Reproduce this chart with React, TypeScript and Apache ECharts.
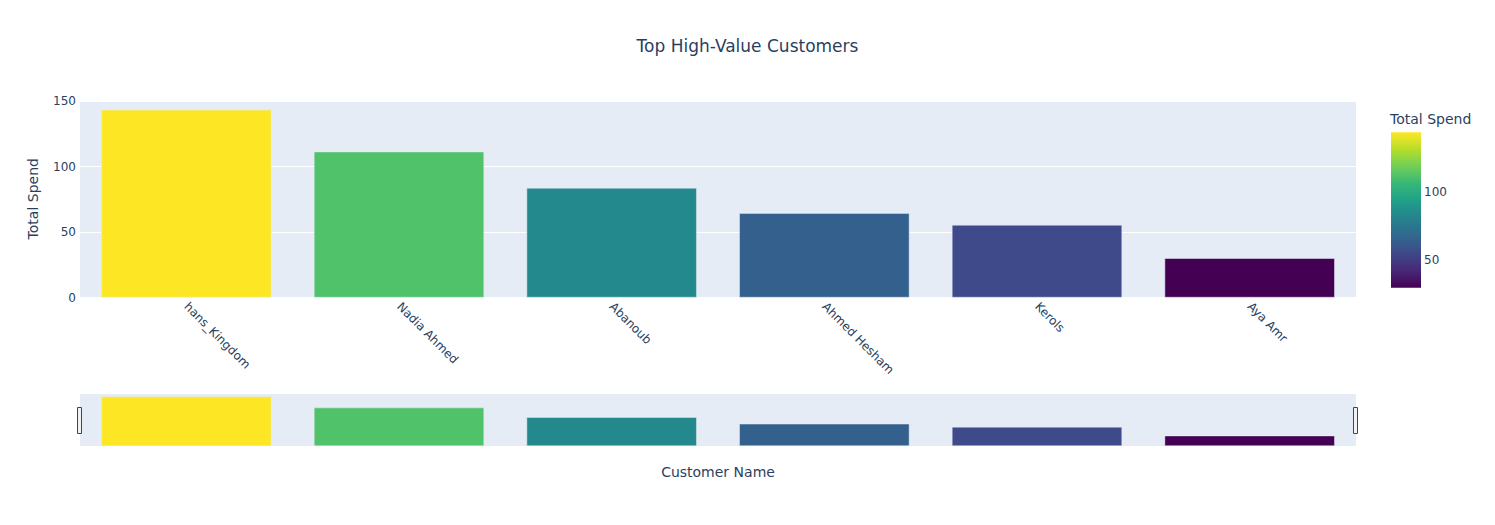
import React, { useEffect, useRef } from "react";
import * as echarts from "echarts";

const customers = ["hans_Kingdom", "Nadia Ahmed", "Abanoub", "Ahmed Hesham", "Kerols", "Aya Amr"];
const totalSpend = [143.5, 111.5, 83.8, 64.5, 55.5, 30];
const yTicks = [0, 50, 100, 150];
const colorbarTicks = [50, 100];
const viridis = ["#440154", "#482878", "#3e4989", "#31688e", "#26828e", "#1f9e89", "#35b779", "#6ece58", "#b5de2b", "#fde725"];

const FONT = 'Verdana, "DejaVu Sans", sans-serif';
const TXT = "#2a3f5f";
const BG = "#E5ECF6";

export default function App() {
  const ref = useRef<HTMLDivElement>(null);
  useEffect(() => {
    if (!ref.current) return;
    const chart = echarts.init(ref.current, null, { renderer: "svg" });
    const vMin = Math.min(...totalSpend);
    const vMax = Math.max(...totalSpend);
    const cbTop = 132.3;
    const cbBottom = 287.7;
    const cbX = 1391;
    const cbW = 30;
    const cbY = (v: number) => cbBottom - ((v - vMin) / (vMax - vMin)) * (cbBottom - cbTop);
    const yMax = 151;

    const graphics: any[] = [
      {
        type: "rect",
        shape: { x: cbX, y: cbTop, width: cbW, height: cbBottom - cbTop },
        style: {
          fill: new echarts.graphic.LinearGradient(
            0, 1, 0, 0,
            viridis.map((c, i) => ({ offset: i / (viridis.length - 1), color: c }))
          ),
        },
      },
      {
        type: "text",
        x: 1390,
        y: 119,
        style: { text: "Total Spend", fill: TXT, font: `14px ${FONT}`, textAlign: "left", textVerticalAlign: "middle" },
      },
      ...colorbarTicks.map((t) => ({
        type: "text",
        x: cbX + cbW + 3,
        y: cbY(t),
        style: { text: String(t), fill: TXT, font: `12px ${FONT}`, textAlign: "left", textVerticalAlign: "middle" },
      })),
      {
        type: "rect",
        shape: { x: 77.5, y: 407.5, width: 4, height: 26 },
        style: { fill: "#f2f2f2", stroke: "#444", lineWidth: 1 },
      },
      {
        type: "rect",
        shape: { x: 1353.5, y: 407.5, width: 4, height: 26 },
        style: { fill: "#f2f2f2", stroke: "#444", lineWidth: 1 },
      },
    ];

    chart.setOption({
      animation: false,
      backgroundColor: "#fff",
      title: {
        text: "Top High-Value Customers",
        left: "center",
        top: 32,
        textStyle: { color: TXT, fontSize: 17, fontWeight: "normal", fontFamily: FONT },
      },
      visualMap: {
        show: false,
        type: "continuous",
        min: vMin,
        max: vMax,
        seriesIndex: [0, 1],
        inRange: { color: viridis },
      },
      grid: [
        { left: 80, right: 139, top: 100, height: 197.5, show: true, backgroundColor: BG, borderWidth: 0, containLabel: false },
        { left: 80, right: 139, top: 394, height: 52, show: true, backgroundColor: BG, borderWidth: 0, containLabel: false },
      ],
      xAxis: [
        {
          type: "category",
          gridIndex: 0,
          data: customers,
          axisLine: { show: false },
          axisTick: { show: false },
          axisLabel: { rotate: -45, color: TXT, fontSize: 12, fontFamily: FONT, margin: 7, interval: 0 },
        },
        {
          type: "category",
          gridIndex: 1,
          data: customers,
          axisLine: { show: false },
          axisTick: { show: false },
          axisLabel: { show: false },
          name: "Customer Name",
          nameLocation: "middle",
          nameGap: 19,
          nameTextStyle: { color: TXT, fontSize: 14, fontFamily: FONT },
        },
      ],
      yAxis: [
        {
          type: "value",
          gridIndex: 0,
          min: 0,
          max: yMax,
          interval: 50,
          axisLine: { show: false },
          axisTick: { show: false },
          splitLine: { show: true, lineStyle: { color: "#fff", width: 1 } },
          axisLabel: {
            color: TXT,
            fontSize: 12,
            fontFamily: FONT,
            margin: 4,
            formatter: (v: number) => (yTicks.includes(v) ? String(v) : ""),
          },
          name: "Total Spend",
          nameLocation: "middle",
          nameGap: 40,
          nameTextStyle: { color: TXT, fontSize: 14, fontFamily: FONT },
        },
        {
          type: "value",
          gridIndex: 1,
          min: 0,
          max: yMax,
          show: false,
          splitLine: { show: false },
        },
      ],
      series: [
        {
          type: "bar",
          xAxisIndex: 0,
          yAxisIndex: 0,
          data: totalSpend,
          barCategoryGap: "20%",
          itemStyle: { borderColor: BG, borderWidth: 0.5 },
        },
        {
          type: "bar",
          xAxisIndex: 1,
          yAxisIndex: 1,
          data: totalSpend,
          barCategoryGap: "20%",
          itemStyle: { borderColor: BG, borderWidth: 0.5 },
          silent: true,
        },
      ],
      graphic: graphics,
    });
    return () => chart.dispose();
  }, []);
  return <div ref={ref} style={{ position: "fixed", left: 0, top: 0, width: 1495, height: 525 }} />;
}
